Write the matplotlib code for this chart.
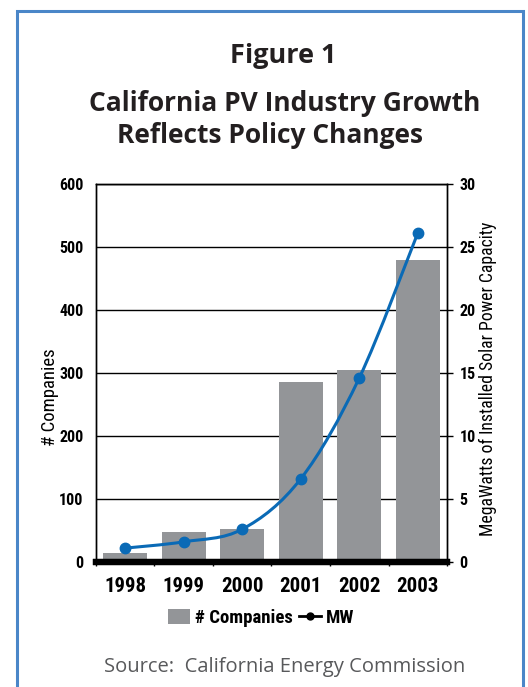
import numpy as np
import matplotlib.pyplot as plt
from matplotlib.path import Path
from matplotlib.patches import PathPatch, Rectangle, Patch
from matplotlib.lines import Line2D
from matplotlib import font_manager

# Data
years = ["1998", "1999", "2000", "2001", "2002", "2003"]
companies = [15, 47, 53, 285, 304, 479]
megawatts = [1.1, 1.6, 2.6, 6.6, 14.6, 26.1]

bar_color = "#939598"
line_color = "#0a6ab6"
frame_color = "#4a86c8"

# pick a condensed family for the chart labels
installed = set(f.name for f in font_manager.fontManager.ttflist)
candidates = ["Roboto Condensed", "PT Sans Narrow", "Archivo Narrow",
              "Open Sans Condensed", "Barlow Condensed", "Liberation Sans Narrow"]
cond_family = next((c for c in candidates if c in installed), None)


def nfont(size, weight="normal"):
    if cond_family:
        return font_manager.FontProperties(family=cond_family, weight=weight, size=size)
    return font_manager.FontProperties(family="DejaVu Sans", stretch="condensed",
                                       weight=weight, size=size * 0.85)


def smooth_path(xs, ys):
    """Catmull-Rom style smoothed path through the points (like Excel's smoothed line)."""
    pts = np.column_stack([xs, ys]).astype(float)
    verts = [pts[0]]
    codes = [Path.MOVETO]
    n = len(pts)
    for i in range(n - 1):
        p0 = pts[i - 1] if i > 0 else pts[i]
        p1 = pts[i]
        p2 = pts[i + 1]
        p3 = pts[i + 2] if i + 2 < n else pts[i + 1]
        c1 = p1 + (p2 - p0) / 6.0
        c2 = p2 - (p3 - p1) / 6.0
        verts += [c1, c2, p2]
        codes += [Path.CURVE4] * 3
    return Path(verts, codes)


fig = plt.figure(figsize=(5.28, 6.87), dpi=100)
ax = fig.add_axes([0.1818, 0.1820, 0.6648, 0.5502])
ax2 = ax.twinx()

x = np.arange(len(years))
ax.bar(x, companies, width=0.76, color=bar_color, zorder=2)

ax.set_xlim(-0.5, len(years) - 0.5)
ax.set_ylim(0, 600)
ax.set_yticks(range(0, 601, 100))
ax.yaxis.grid(True, color="black", linewidth=1.0, zorder=1)
ax.set_axisbelow(True)

for side in ["left", "right", "top"]:
    ax.spines[side].set_linewidth(1.0)
    ax2.spines[side].set_linewidth(1.0)
ax.spines["bottom"].set_linewidth(4.5)
ax2.spines["bottom"].set_linewidth(4.5)

ax.set_xticks(x)
ax.set_xticklabels(years)
ax.set_xticks(np.arange(len(years) + 1) - 0.5, minor=True)
ax.tick_params(axis="x", which="major", length=0, pad=11)
ax.tick_params(axis="x", which="minor", length=3, width=1, direction="out")
ax.tick_params(axis="y", length=0, pad=9)
for lab in ax.get_xticklabels():
    lab.set_fontproperties(nfont(15, "bold"))
for lab in ax.get_yticklabels():
    lab.set_fontproperties(nfont(11.5, "bold"))

ax.set_ylabel("# Companies", fontproperties=nfont(13.5), va="center")
ax.yaxis.set_label_coords(-0.131, 0.435)

# MW line on the secondary axis
ax2.set_ylim(0, 30)
ax2.set_yticks(range(0, 31, 5))
ax2.tick_params(axis="y", length=4, width=1, direction="out", pad=5)
for lab in ax2.get_yticklabels():
    lab.set_fontproperties(nfont(11.5, "bold"))
ax2.add_patch(PathPatch(smooth_path(x, megawatts), facecolor="none",
                        edgecolor=line_color, linewidth=2.2, zorder=3))
ax2.plot(x, megawatts, linestyle="none", marker="o", markersize=7.5,
         color=line_color, zorder=4)
ax2.set_ylabel("MegaWatts of Installed Solar Power Capacity",
               fontproperties=nfont(12.7), va="center")
ax2.yaxis.set_label_coords(1.117, 0.484)

# Legend
handles = [Patch(facecolor=bar_color, edgecolor="none"),
           Line2D([], [], color="black", linewidth=2.0, marker="o", markersize=5)]
leg = fig.legend(handles, ["# Companies", "MW"], loc="center",
                 bbox_to_anchor=(261 / 528, 1 - 618 / 687), ncol=2, frameon=False,
                 prop=nfont(13.5, "bold"),
                 handlelength=1.2, handletextpad=0.25, columnspacing=0.3,
                 handleheight=0.85)

# Titles and source
fig.text(283 / 528, 1 - 63 / 687, "Figure 1", ha="center", va="baseline",
         family="Open Sans", weight="bold", fontsize=19.5, color="#231f20")
fig.text(285 / 528, 1 - 111 / 687, "California PV Industry Growth", ha="center",
         va="baseline", family="Open Sans", weight="bold", fontsize=19,
         color="#231f20")
fig.text(270 / 528, 1 - 143 / 687, "Reflects Policy Changes", ha="center",
         va="baseline", family="Open Sans", weight="bold", fontsize=19,
         color="#231f20")
fig.text(285 / 528, 1 - 672 / 687, "Source:  California Energy Commission",
         ha="center", va="baseline", family="Open Sans", fontsize=14.5,
         color="#58595b")

# Blue frame around the figure
fig.patches.append(Rectangle((17 / 528, -0.05), (523 - 17) / 528, 1.05 - 11 / 687,
                             transform=fig.transFigure, fill=False,
                             edgecolor=frame_color, linewidth=2.2))

fig.savefig("out.png", dpi=100)
